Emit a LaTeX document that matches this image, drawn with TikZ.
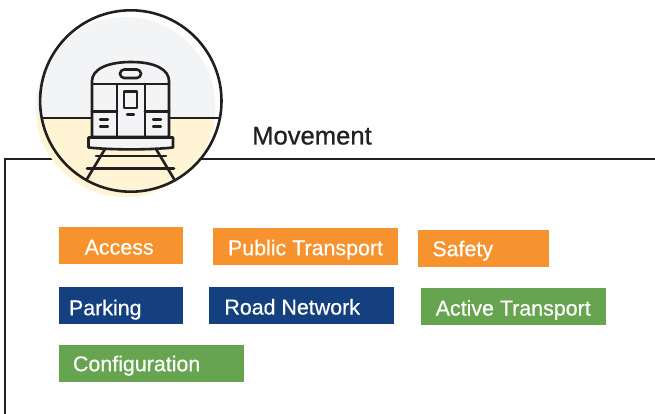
\documentclass[tikz,border=0pt]{standalone}
\usepackage{fontspec}
\setmainfont{Liberation Sans}
\newfontfamily\medfont[FakeBold=0.8]{Liberation Sans}
\newfontfamily\tagfont[FakeBold=0.5]{Liberation Sans}
\definecolor{orng}{HTML}{F7932E}
\definecolor{nvy}{HTML}{15407F}
\definecolor{grn}{HTML}{66A44F}
\definecolor{sky}{HTML}{F3F4F6}
\definecolor{sand}{HTML}{FFF4D4}
\definecolor{ink}{HTML}{231F20}
\tikzset{
 tag/.style n args={3}{anchor=north west,fill=#1,text=white,inner sep=0pt,text height=#2pt,text depth=#3pt,font=\tagfont\fontsize{21.4}{24}\selectfont},
 ln/.style={draw=ink,line width=2.6pt,line join=round,line cap=round},
 lnthin/.style={draw=ink,line width=2.2pt,line cap=round}
}
\newcommand{\tagtext}[3]{\makebox[#1pt][l]{\hspace*{#2pt}#3}}
\begin{document}
\begin{tikzpicture}[x=1pt,y=-1pt]
\useasboundingbox (0,0) rectangle (655,414);
% frame
\draw[ink,line width=1.8pt] (5,414) -- (5,159) -- (655,159);
% backing disc
\fill[sky] (125.5,107) circle (90);
\begin{scope}
\clip (0,118) rectangle (400,300);
\fill[sand] (125.5,107) circle (90);
\end{scope}
\begin{scope}
\clip (130.8,101) circle (90.7);
\draw[ln] (30,118) -- (235,118);
\end{scope}
\draw[ln] (130.8,101) circle (90.7);
% rails
\draw[ln] (105,149) -- (87,179);
\draw[ln] (156,149) -- (174,179);
\draw[ln] (96,156) -- (166,156);
\draw[ln] (87,168.5) -- (174,168.5);
% train body
\path[ln,fill=sky] (92,137) -- (92,81) .. controls (92,70) and (106,62) .. (131,62) .. controls (156,62) and (169,70) .. (169,81) -- (169,137) -- cycle;
\draw[ln] (92,84) -- (169,84);
\draw[ln] (117,84) -- (117,137);
\draw[ln] (145,84) -- (145,137);
\draw[ln] (92,111.5) -- (117,111.5);
\draw[ln] (145,111.5) -- (169,111.5);
\draw[ln,rounded corners=4.2pt] (120,69.5) rectangle (141,78);
\draw[ln] (124,91.5) rectangle (137,108);
\draw[lnthin] (127,114.5) -- (134,114.5);
\draw[lnthin] (100,119.5) -- (108,119.5);
\draw[lnthin] (100,126.5) -- (108,126.5);
\draw[lnthin] (153,119.5) -- (161,119.5);
\draw[lnthin] (153,126.5) -- (161,126.5);
% bumper
\path[ln,fill=sky] (88.5,137.5) -- (173,137.5) -- (173,147.5) .. controls (150,150) and (112,150) .. (88.5,147.5) -- cycle;
% title
\node[anchor=base west,inner sep=0pt,text=ink,font=\medfont\fontsize{25.6}{28}\selectfont] (title) at (252,144.5) {Movement};
% tags
\node[tag={orng}{27.3}{9.7}] (access) at (58.8,227) {\tagtext{123.9}{25.7}{Access}};
\node[tag={orng}{27}{10}] (public) at (212.8,228) {\tagtext{184.9}{15}{Public Transport}};
\node[tag={orng}{26}{11}] (safety) at (417.8,230) {\tagtext{130.9}{14.4}{Safety}};
\node[tag={nvy}{28}{9}] (parking) at (58.8,287) {\tagtext{123.9}{10}{Parking}};
\node[tag={nvy}{27.3}{9.7}] (road) at (208.8,287) {\tagtext{184.9}{15.4}{Road Network}};
\node[tag={grn}{27.3}{9.7}] (active) at (420.8,288) {\tagtext{184.9}{14.7}{Active Transport}};
\node[tag={grn}{26}{11}] (config) at (58.8,345) {\tagtext{184.9}{14}{Configuration}};
\end{tikzpicture}
\end{document}
